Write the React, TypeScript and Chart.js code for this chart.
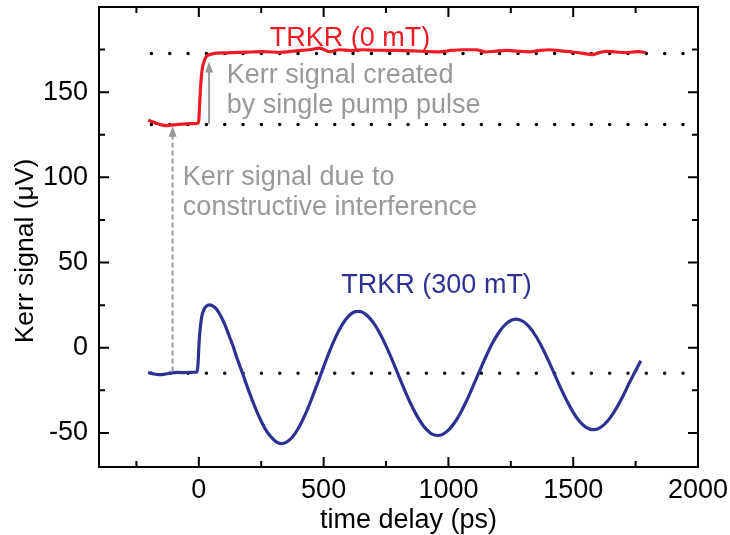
import React, { useEffect, useRef } from "react";
import { Chart, registerables } from "chart.js";

Chart.register(...registerables);

// ---- axes ----
const X_MIN = -400;
const X_MAX = 2000;
const Y_MIN = -70;
const Y_MAX = 200;
const xTicksMajor = [0, 500, 1000, 1500, 2000];
const xTicksMinor = [-250, 250, 750, 1250, 1750];
const yTicksMajor = [-50, 0, 50, 100, 150];
const yTicksMinor = [-25, 25, 75, 125, 175];
const xTitle = "time delay (ps)";
const yTitle = "Kerr signal (\u03bcV)";

// ---- TRKR (0 mT) ----
const redT = [-203, -185, -169, -145, -129, -100, -70, -36, -16, -4, 0, 4, 8, 13, 20, 28, 38, 55, 71, 110, 164, 210, 257, 324, 391, 444, 484, 524, 564, 610, 657, 720, 791, 860, 924, 964, 1010, 1057, 1111, 1151, 1190, 1231, 1280, 1324, 1365, 1404, 1450, 1497, 1540, 1577, 1605, 1631, 1670, 1711, 1740, 1764, 1791];
const redV = [133.6, 132.6, 131.6, 130.7, 130.4, 130.8, 131.2, 131.5, 131.5, 131.8, 134, 145, 155, 163, 167.5, 170.5, 171.8, 172.5, 172.9, 173.1, 173.4, 173.6, 173.8, 173.4, 174.3, 174.9, 175.9, 173.8, 174.9, 174.4, 174.9, 174.6, 174.5, 174.2, 173.8, 173.7, 174.5, 174.9, 174.9, 173.6, 174.1, 174.5, 174.0, 173.7, 174.5, 174.9, 174.2, 173.6, 172.8, 172.0, 173.2, 174.0, 173.6, 173.2, 173.6, 173.8, 173.2];

// ---- TRKR (300 mT) ----
const blueT = [-203, -180, -160, -140, -120, -100, -80, -60, -40, -20, -8, -4, 1, 6, 12, 20, 30, 42, 55, 70, 85, 100, 115, 125, 137, 150, 175, 200, 225, 250, 275, 300, 315, 331, 350, 375, 400, 425, 450, 475, 500, 525, 550, 575, 600, 620, 637, 655, 675, 700, 725, 750, 775, 800, 825, 850, 875, 900, 925, 940, 957, 975, 1000, 1025, 1050, 1075, 1100, 1125, 1150, 1175, 1200, 1225, 1250, 1271, 1300, 1325, 1350, 1375, 1400, 1425, 1450, 1475, 1500, 1525, 1550, 1580, 1600, 1625, 1650, 1675, 1700, 1725, 1750, 1771];
const blueV = [-14.5, -15.4, -15.8, -15.6, -15.1, -14.6, -14.5, -14.6, -14.5, -14.4, -14.4, -11, 2.9, 12, 18.5, 22.3, 24.4, 25.2, 24.6, 22.8, 19.4, 15.0, 9.6, 5.6, 1.0, -4.9, -15.0, -25.3, -34.8, -43.1, -49.7, -54.0, -55.6, -56.3, -55.6, -52.4, -47.0, -39.6, -30.8, -21.1, -11.2, -1.7, 6.8, 13.7, 18.5, 20.8, 21.3, 20.9, 18.8, 14.6, 8.5, 1.1, -7.3, -16.2, -25.0, -33.2, -40.3, -45.9, -49.7, -51.0, -51.5, -51.0, -48.4, -43.9, -37.8, -30.4, -22.1, -13.6, -5.3, 2.3, 8.5, 13.2, 16.0, 16.8, 15.4, 12.0, 6.9, 0.3, -7.3, -15.5, -23.7, -31.3, -37.9, -43.2, -46.6, -48.1, -47.5, -45.0, -40.7, -35.0, -28.2, -20.6, -13.5, -7.6];

// ---- dotted reference levels ----
const refLevels = [172.7, 131, -15];
const refStartT = -190;
const refEndT = 1944;

// ---- annotations ----
const seriesLabels = ["TRKR (0 mT)", "TRKR (300 mT)"];
const seriesLabelX = [284, 571];
const seriesLabelY = [177.2, 31.9];
const noteTexts = ["Kerr signal created", "by single pump pulse", "Kerr signal due to", "constructive interference"];
const noteX = [112, 112, -64, -64];
const noteY = [155.3, 137.6, 95.5, 77.9];
const arrowX = [-105, 41];
const arrowFrom = [-14, 131.5];
const arrowTo = [130.3, 168];
const arrowDashed = [true, false];

const RED = "#ed1c24";
const BLUE = "#2e3192";
const GRAY = "#999999";
const FONT = "'Liberation Sans', Arial, Helvetica, sans-serif";
const FS = 27;

const framePlugin = {
  id: "frameTicks",
  afterDatasetsDraw(chart: any) {
    const { ctx, chartArea: a, scales } = chart;
    const xs = scales.x;
    const ys = scales.y;
    ctx.save();
    ctx.strokeStyle = "#000";
    ctx.lineWidth = 2;
    ctx.lineCap = "butt";
    ctx.beginPath();
    ctx.rect(a.left, a.top, a.right - a.left, a.bottom - a.top);
    ctx.stroke();
    const majorLen = 10;
    const minorLen = 6;
    const drawX = (v: number, len: number) => {
      const p = xs.getPixelForValue(v);
      ctx.moveTo(p, a.bottom);
      ctx.lineTo(p, a.bottom - len);
      ctx.moveTo(p, a.top);
      ctx.lineTo(p, a.top + len);
    };
    const drawY = (v: number, len: number) => {
      const p = ys.getPixelForValue(v);
      ctx.moveTo(a.left, p);
      ctx.lineTo(a.left + len, p);
      ctx.moveTo(a.right, p);
      ctx.lineTo(a.right - len, p);
    };
    ctx.beginPath();
    xTicksMajor.forEach((v) => drawX(v, majorLen));
    xTicksMinor.forEach((v) => drawX(v, minorLen));
    yTicksMajor.forEach((v) => drawY(v, majorLen));
    yTicksMinor.forEach((v) => drawY(v, minorLen));
    ctx.stroke();

    // axis titles
    ctx.fillStyle = "#000";
    ctx.font = `${FS}px ${FONT}`;
    ctx.textAlign = "center";
    ctx.textBaseline = "alphabetic";
    ctx.fillText(xTitle, (a.left + a.right) / 2 + 10, a.bottom + 61);
    ctx.save();
    ctx.font = `26.5px ${FONT}`;
    ctx.translate(33, (a.top + a.bottom) / 2 + 14);
    ctx.rotate(-Math.PI / 2);
    ctx.fillText(yTitle, 0, 0);
    ctx.restore();
    ctx.restore();
  },
};

const annotationPlugin = {
  id: "annotations",
  afterDatasetsDraw(chart: any) {
    const { ctx, scales } = chart;
    const xs = scales.x;
    const ys = scales.y;
    ctx.save();
    ctx.font = `${FS}px ${FONT}`;
    ctx.textAlign = "left";
    ctx.textBaseline = "alphabetic";
    seriesLabels.forEach((t, i) => {
      ctx.fillStyle = i === 0 ? RED : BLUE;
      ctx.fillText(t, xs.getPixelForValue(seriesLabelX[i]), ys.getPixelForValue(seriesLabelY[i]));
    });
    ctx.fillStyle = GRAY;
    noteTexts.forEach((t, i) => {
      ctx.fillText(t, xs.getPixelForValue(noteX[i]), ys.getPixelForValue(noteY[i]));
    });

    arrowX.forEach((xv, i) => {
      const px = xs.getPixelForValue(xv);
      const y0 = ys.getPixelForValue(arrowFrom[i]);
      const y1 = ys.getPixelForValue(arrowTo[i]);
      const headLen = 11;
      const headHalf = 4;
      ctx.strokeStyle = GRAY;
      ctx.fillStyle = GRAY;
      ctx.lineWidth = 2;
      ctx.setLineDash(arrowDashed[i] ? [5, 3] : []);
      ctx.beginPath();
      ctx.moveTo(px, y0);
      ctx.lineTo(px, y1 + headLen - 1);
      ctx.stroke();
      ctx.setLineDash([]);
      ctx.beginPath();
      ctx.moveTo(px, y1);
      ctx.lineTo(px - headHalf, y1 + headLen);
      ctx.lineTo(px + headHalf, y1 + headLen);
      ctx.closePath();
      ctx.fill();
    });
    ctx.restore();
  },
};

export default function App() {
  const canvasRef = useRef<HTMLCanvasElement | null>(null);

  useEffect(() => {
    document.body.style.margin = "0";
    document.body.style.overflow = "hidden";
    const canvas = canvasRef.current;
    if (!canvas) return;

    const toPts = (ts: number[], vs: number[]) => ts.map((t, i) => ({ x: t, y: vs[i] }));

    const dotted = refLevels.map((lv) => ({
      data: [
        { x: refStartT, y: lv },
        { x: refEndT, y: lv },
      ],
      borderColor: "#000",
      borderWidth: 3.5,
      borderDash: [0.01, 18.32],
      borderCapStyle: "round" as const,
      pointRadius: 0,
      fill: false,
    }));

    const chart = new Chart(canvas, {
      type: "line",
      data: {
        datasets: [
          {
            data: toPts(redT, redV),
            borderColor: RED,
            borderWidth: 3.2,
            pointRadius: 0,
            cubicInterpolationMode: "monotone",
            fill: false,
          },
          {
            data: toPts(blueT, blueV),
            borderColor: BLUE,
            borderWidth: 3.2,
            pointRadius: 0,
            cubicInterpolationMode: "monotone",
            fill: false,
          },
          ...dotted,
        ] as any,
      },
      options: {
        animation: false,
        responsive: false,
        devicePixelRatio: 1,
        parsing: false as any,
        layout: { padding: { top: 7, right: 32, left: 0, bottom: 0 } },
        plugins: {
          legend: { display: false },
          tooltip: { enabled: false },
        },
        scales: {
          x: {
            type: "linear",
            min: X_MIN,
            max: X_MAX,
            grid: { display: false, drawTicks: false },
            border: { display: false },
            ticks: {
              color: "#000",
              font: { size: FS, family: FONT },
              padding: 7,
              maxRotation: 0,
              autoSkip: false,
              callback: (v: any) => String(v),
            },
            afterBuildTicks: (s: any) => {
              s.ticks = xTicksMajor.map((v) => ({ value: v }));
            },
            afterFit: (s: any) => {
              s.height = 68;
              s.paddingLeft = 0;
              s.paddingRight = 0;
            },
          },
          y: {
            type: "linear",
            min: Y_MIN,
            max: Y_MAX,
            grid: { display: false, drawTicks: false },
            border: { display: false },
            ticks: {
              color: "#000",
              font: { size: FS, family: FONT },
              padding: 11,
              autoSkip: false,
              callback: (v: any) => String(v),
            },
            afterBuildTicks: (s: any) => {
              s.ticks = yTicksMajor.map((v) => ({ value: v }));
            },
            afterFit: (s: any) => {
              s.width = 99;
              s.paddingTop = 0;
              s.paddingBottom = 0;
            },
          },
        },
      },
      plugins: [framePlugin, annotationPlugin],
    });

    return () => chart.destroy();
  }, []);

  return (
    <div style={{ width: 730, height: 535, background: "#fff" }}>
      <canvas ref={canvasRef} width={730} height={535} style={{ display: "block" }} />
    </div>
  );
}
